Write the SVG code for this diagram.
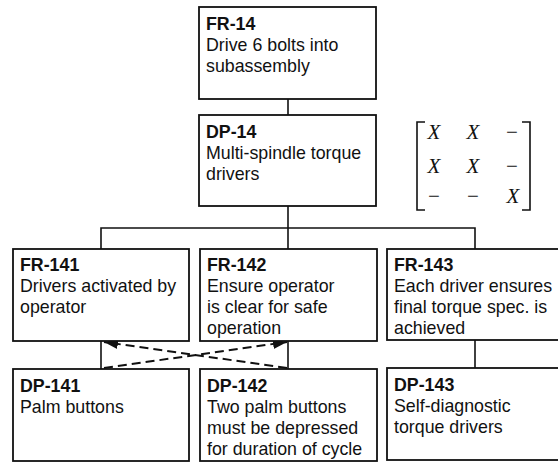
<svg xmlns="http://www.w3.org/2000/svg" width="558" height="463" viewBox="0 0 558 463">
<style>
.box{fill:#fff;stroke:#111;stroke-width:1.8}
.t{font-family:"Liberation Sans",Arial,sans-serif;font-size:17.8px;fill:#111}
.b{font-weight:bold}
.ln{stroke:#111;stroke-width:1.6;fill:none}
.dash{stroke:#111;stroke-width:2;stroke-dasharray:9 5;fill:none}
.m{font-family:"Liberation Serif","Times New Roman",serif;font-size:21px;font-style:italic;fill:#111;text-anchor:middle}
.mm{font-family:"Liberation Serif","Times New Roman",serif;font-size:21px;fill:#111;text-anchor:middle}
</style>
<defs>
<marker id="ah" viewBox="0 0 14 10" refX="14" refY="5" markerWidth="14" markerHeight="10" markerUnits="userSpaceOnUse" orient="auto">
<path d="M0,0 L14,5 L0,10 Z" fill="#111"/>
</marker>
</defs>
<rect width="558" height="463" fill="#fff"/>
<g id="connectors">
<line class="ln" x1="288" y1="99" x2="288" y2="115"/>
<line class="ln" x1="288" y1="206" x2="288" y2="249"/>
<polyline class="ln" points="101,249 101,228 475,228 475,249"/>
<line class="ln" x1="101" y1="341" x2="101" y2="369"/>
<line class="ln" x1="288" y1="341" x2="288" y2="369"/>
<line class="ln" x1="475" y1="340" x2="475" y2="368"/>
<line class="dash" x1="287" y1="368" x2="104" y2="342" marker-end="url(#ah)"/>
<line class="dash" x1="104" y1="368" x2="287" y2="342" marker-end="url(#ah)"/>
</g>
<g id="FR-14">
<rect class="box" x="199" y="7" width="177" height="92"/>
<text class="t b" x="206" y="30">FR-14</text>
<text class="t" x="206" y="51">Drive 6 bolts into</text>
<text class="t" x="206" y="72">subassembly</text>
</g>
<g id="DP-14">
<rect class="box" x="199" y="115" width="177" height="91"/>
<text class="t b" x="206" y="138">DP-14</text>
<text class="t" x="206" y="159">Multi-spindle torque</text>
<text class="t" x="206" y="180">drivers</text>
</g>
<g id="matrix">
<path class="ln" d="M425,122 L417,122 L417,210 L425,210"/>
<path class="ln" d="M522,122 L530,122 L530,210 L522,210"/>
<text class="m" x="434" y="139">X</text>
<text class="m" x="473" y="139">X</text>
<text class="mm" x="512" y="139">−</text>
<text class="m" x="434" y="173">X</text>
<text class="m" x="473" y="173">X</text>
<text class="mm" x="512" y="173">−</text>
<text class="mm" x="434" y="203">−</text>
<text class="mm" x="473" y="203">−</text>
<text class="m" x="513" y="203">X</text>
</g>
<g id="FR-141">
<rect class="box" x="13" y="249" width="176" height="92"/>
<text class="t b" x="20" y="271">FR-141</text>
<text class="t" x="20" y="292">Drivers activated by</text>
<text class="t" x="20" y="313">operator</text>
</g>
<g id="FR-142">
<rect class="box" x="200" y="249" width="177" height="92"/>
<text class="t b" x="207" y="271">FR-142</text>
<text class="t" x="207" y="292">Ensure operator</text>
<text class="t" x="207" y="313">is clear for safe</text>
<text class="t" x="207" y="334">operation</text>
</g>
<g id="FR-143">
<rect class="box" x="387" y="249" width="176" height="91"/>
<text class="t b" x="394" y="271">FR-143</text>
<text class="t" x="394" y="292">Each driver ensures</text>
<text class="t" x="394" y="313">final torque spec. is</text>
<text class="t" x="394" y="334">achieved</text>
</g>
<g id="DP-141">
<rect class="box" x="13" y="369" width="176" height="92"/>
<text class="t b" x="20" y="392">DP-141</text>
<text class="t" x="20" y="413">Palm buttons</text>
</g>
<g id="DP-142">
<rect class="box" x="200" y="369" width="177" height="92"/>
<text class="t b" x="207" y="392">DP-142</text>
<text class="t" x="207" y="413">Two palm buttons</text>
<text class="t" x="207" y="434">must be depressed</text>
<text class="t" x="207" y="455">for duration of cycle</text>
</g>
<g id="DP-143">
<rect class="box" x="387" y="368" width="176" height="92"/>
<text class="t b" x="394" y="391">DP-143</text>
<text class="t" x="394" y="412">Self-diagnostic</text>
<text class="t" x="394" y="433">torque drivers</text>
</g>
</svg>
